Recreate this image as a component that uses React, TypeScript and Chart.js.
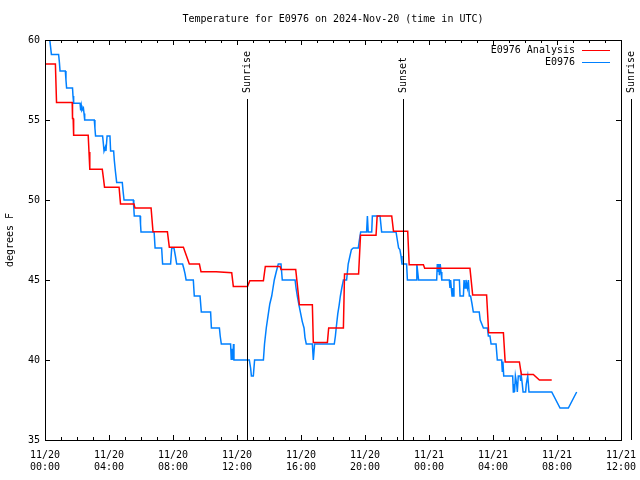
import React, { useEffect, useRef } from "react";
import { Chart, registerables } from "chart.js";

Chart.register(...registerables);

const TITLE = "Temperature for E0976 on 2024-Nov-20 (time in UTC)";
const Y_TITLE = "degrees F";
const FONT = '"DejaVu Sans Mono", monospace';

// hours since 2024-11-20 00:00 UTC
const X_TICK_HOURS = [0, 4, 8, 12, 16, 20, 24, 28, 32, 36];
const X_TICK_LABELS = [
  ["11/20", "00:00"], ["11/20", "04:00"], ["11/20", "08:00"], ["11/20", "12:00"],
  ["11/20", "16:00"], ["11/20", "20:00"], ["11/21", "00:00"], ["11/21", "04:00"],
  ["11/21", "08:00"], ["11/21", "12:00"],
];
const Y_MIN = 35;
const Y_MAX = 60;
const Y_STEP = 5;

const SUN_LABELS = ["Sunrise", "Sunset", "Sunrise"];
const SUN_HOURS = [12.62, 22.37, 36.62];

const SERIES_LABELS = ["E0976 Analysis", "E0976"];
const SERIES_COLORS = ["#ff0000", "#0080ff"];

// E0976 Analysis
const anaHours = [
  0, 0.65, 0.72, 1.7, 1.72, 1.76, 1.79, 2.7, 2.75, 2.8, 3.58, 3.66, 3.72, 4.63, 4.72, 5.56, 5.62,
  6.63, 6.75, 7.65, 7.77, 8.65, 9.02, 9.65, 9.75, 10.7, 11.67, 11.77, 12.66, 12.8, 13.65, 13.77,
  14.69, 14.75, 15.67, 15.76, 15.9, 16.71, 16.77, 17.65, 17.73, 18.65, 18.72, 19.6, 19.72, 20.69,
  20.76, 21.67, 21.78, 22.67, 22.76, 23.65, 23.73, 26.56, 26.73, 27.6, 27.73, 28.65, 28.76, 29.65,
  29.77, 30.52, 30.9, 31.67,
];
const anaTemps = [
  58.5, 58.5, 56.1, 56.1, 55.1, 55.1, 54.05, 54.05, 53.0, 51.92, 51.92, 51.3, 50.8, 50.8, 49.75,
  49.75, 49.5, 49.5, 48.02, 48.02, 47.05, 47.05, 46.0, 46.0, 45.52, 45.52, 45.45, 44.6, 44.6,
  44.95, 44.95, 45.85, 45.85, 45.65, 45.65, 44.8, 43.45, 43.45, 41.1, 41.1, 42.0, 42.0, 45.37,
  45.37, 47.8, 47.8, 49.0, 49.0, 48.05, 48.05, 45.95, 45.95, 45.73, 45.73, 44.06, 44.06, 41.7,
  41.7, 39.88, 39.88, 39.1, 39.1, 38.75, 38.75,
];

// E0976 observations
const obsHours = [
  0.3, 0.4, 0.85, 0.9, 0.94, 1.27, 1.31, 1.35, 1.72, 1.75, 1.79, 2.19, 2.23, 2.27, 2.31, 2.4, 2.44,
  2.48, 3.08, 3.12, 3.16, 3.6, 3.64, 3.69, 3.77, 3.81, 3.88, 4.06, 4.1, 4.29, 4.33, 4.4, 4.48,
  4.83, 4.88, 4.94, 5.52, 5.55, 5.58, 5.94, 5.97, 6.0, 6.82, 6.88, 7.29, 7.35, 7.85, 7.92, 8.06,
  8.15, 8.23, 8.6, 8.68, 8.75, 8.82, 9.27, 9.33, 9.69, 9.77, 10.35, 10.4, 10.9, 10.95, 11.02,
  11.6, 11.64, 11.7, 11.74, 11.78, 11.81, 12.77, 12.85, 12.9, 13.02, 13.1, 13.65, 13.72, 13.83,
  13.96, 14.05, 14.17, 14.25, 14.33, 14.45, 14.58, 14.75, 14.83, 15.63, 15.69, 15.77, 15.88,
  15.98, 16.08, 16.19, 16.25, 16.33, 16.71, 16.77, 16.85, 18.08, 18.15, 18.2, 18.3, 18.38, 18.46,
  18.55, 18.65, 18.85, 18.95, 19.06, 19.15, 19.27, 19.58, 19.65, 19.73, 20.1, 20.15, 20.2, 20.42,
  20.46, 20.94, 21.04, 21.94, 22.02, 22.1, 22.18, 22.25, 22.31, 22.6, 22.65, 23.19, 23.24, 23.35,
  24.48, 24.52, 24.56, 24.6, 24.65, 24.7, 24.75, 24.8, 25.27, 25.31, 25.35, 25.44, 25.48, 25.52,
  25.56, 25.9, 25.94, 26.15, 26.19, 26.25, 26.31, 26.4, 26.46, 26.52, 26.6, 26.69, 26.77, 27.14,
  27.2, 27.4, 27.65, 27.71, 27.81, 27.88, 28.19, 28.27, 28.54, 28.58, 28.62, 28.67, 29.23, 29.27,
  29.31, 29.35, 29.4, 29.48, 29.52, 29.58, 29.69, 29.73, 29.77, 29.83, 29.88, 30.04, 30.08,
  30.17, 30.25, 31.67, 32.19, 32.71, 33.23,
];
const obsTemps = [
  60.0, 59.1, 59.1, 58.6, 58.06, 58.06, 57.5, 57.0, 57.0, 56.5, 56.05, 56.05, 55.6, 55.9, 55.6,
  55.75, 55.4, 55.0, 55.0, 54.5, 54.0, 54.0, 53.6, 53.06, 53.3, 53.06, 54.0, 54.0, 53.06, 53.06,
  52.5, 51.8, 51.1, 51.1, 50.55, 50.0, 50.0, 49.5, 49.0, 49.0, 48.5, 48.0, 48.0, 47.0, 47.0,
  46.0, 46.0, 47.0, 47.0, 46.5, 46.0, 46.0, 45.7, 45.4, 45.0, 45.0, 44.0, 44.0, 43.0, 43.0, 42.0,
  42.0, 41.5, 41.0, 41.0, 40.0, 40.7, 40.0, 41.0, 40.0, 40.0, 39.5, 39.0, 39.0, 40.0, 40.0, 41.0,
  42.0, 42.9, 43.5, 44.0, 44.5, 45.0, 45.5, 46.0, 46.0, 45.0, 45.0, 44.5, 44.0, 43.4, 42.9, 42.4,
  42.0, 41.4, 41.0, 41.0, 40.0, 41.0, 41.0, 41.5, 42.0, 42.9, 43.4, 44.0, 44.5, 45.0, 45.0, 46.0,
  46.5, 46.9, 47.0, 47.0, 47.5, 48.0, 48.0, 49.0, 48.0, 48.0, 49.0, 49.0, 48.0, 48.0, 47.5, 47.0,
  46.9, 46.5, 46.0, 46.0, 45.0, 45.0, 46.0, 45.0, 45.0, 46.0, 45.5, 46.0, 45.3, 46.0, 45.5, 45.0,
  45.0, 44.5, 45.0, 44.0, 44.5, 44.0, 45.0, 45.0, 44.0, 44.0, 45.0, 44.5, 45.0, 44.5, 45.0, 44.0,
  44.0, 43.5, 43.0, 43.0, 42.5, 42.0, 42.0, 41.5, 41.5, 41.0, 41.0, 40.0, 40.0, 39.3, 39.9, 39.0,
  39.0, 38.0, 38.5, 38.0, 39.0, 38.5, 38.0, 39.0, 39.0, 38.7, 39.0, 38.5, 38.0, 38.0, 38.5, 39.0,
  38.0, 38.0, 37.0, 37.0, 38.0,
];

const toPoints = (hs: number[], ts: number[]) => hs.map((h, i) => ({ x: h, y: ts[i] }));

const overlayPlugin = {
  id: "overlay",
  afterDraw(chart: any) {
    const { ctx, chartArea: a, scales } = chart;
    const xs = scales.x;
    const ys = scales.y;
    ctx.save();
    ctx.strokeStyle = "#000";
    ctx.fillStyle = "#000";
    ctx.lineWidth = 1;
    // frame
    ctx.strokeRect(a.left + 0.5, a.top + 0.5, a.right - a.left, a.bottom - a.top);
    // x ticks (inward, top and bottom)
    ctx.beginPath();
    for (let h = 0; h <= 36; h++) {
      const x = Math.round(xs.getPixelForValue(h)) + 0.5;
      const len = h % 4 === 0 ? 5 : 3;
      ctx.moveTo(x, a.bottom);
      ctx.lineTo(x, a.bottom - len);
      ctx.moveTo(x, a.top);
      ctx.lineTo(x, a.top + len);
    }
    // y ticks
    for (let v = Y_MIN; v <= Y_MAX; v += Y_STEP) {
      const y = Math.round(ys.getPixelForValue(v)) + 0.5;
      ctx.moveTo(a.left, y);
      ctx.lineTo(a.left + 5, y);
      ctx.moveTo(a.right, y);
      ctx.lineTo(a.right - 5, y);
    }
    ctx.stroke();

    ctx.font = "10px " + FONT;
    // sun lines
    SUN_HOURS.forEach((h, i) => {
      const x = Math.round(xs.getPixelForValue(h)) + 0.5;
      ctx.beginPath();
      ctx.moveTo(x, 99);
      ctx.lineTo(x, a.bottom);
      ctx.stroke();
      ctx.save();
      ctx.translate(x, 93);
      ctx.rotate(-Math.PI / 2);
      ctx.textAlign = "left";
      ctx.textBaseline = "middle";
      ctx.fillText(SUN_LABELS[i], 0, 0);
      ctx.restore();
    });

    // title
    ctx.textAlign = "center";
    ctx.textBaseline = "middle";
    ctx.fillText(TITLE, (a.left + a.right) / 2, 19);

    // y title
    ctx.save();
    ctx.translate(10, (a.top + a.bottom) / 2);
    ctx.rotate(-Math.PI / 2);
    ctx.fillText(Y_TITLE, 0, 0);
    ctx.restore();

    // legend
    SERIES_LABELS.forEach((lab, i) => {
      const y = 50 + i * 12;
      ctx.textAlign = "right";
      ctx.fillStyle = "#000";
      ctx.fillText(lab, 575, y);
      ctx.strokeStyle = SERIES_COLORS[i];
      ctx.beginPath();
      ctx.moveTo(582, y + 0.5);
      ctx.lineTo(610, y + 0.5);
      ctx.stroke();
    });
    ctx.restore();
  },
};

export default function App() {
  const ref = useRef<HTMLCanvasElement | null>(null);
  useEffect(() => {
    document.body.style.margin = "0";
    const canvas = ref.current;
    if (!canvas) return;
    const chart = new Chart(canvas, {
      type: "line",
      data: {
        datasets: [
          {
            label: SERIES_LABELS[0],
            data: toPoints(anaHours, anaTemps),
            borderColor: SERIES_COLORS[0],
            borderWidth: 1.5,
            pointRadius: 0,
            tension: 0,
            fill: false,
          },
          {
            label: SERIES_LABELS[1],
            data: toPoints(obsHours, obsTemps),
            borderColor: SERIES_COLORS[1],
            borderWidth: 1.5,
            pointRadius: 0,
            tension: 0,
            fill: false,
          },
        ],
      },
      options: {
        responsive: false,
        animation: false,
        devicePixelRatio: 1,
        layout: { padding: { top: 40, right: 19, left: 0, bottom: 0 } },
        plugins: {
          legend: { display: false },
          title: { display: false },
          tooltip: { enabled: false },
        },
        events: [],
        scales: {
          x: {
            type: "linear",
            min: 0,
            max: 36,
            afterBuildTicks: (scale: any) => {
              scale.ticks = X_TICK_HOURS.map((v) => ({ value: v }));
            },
            afterFit: (scale: any) => {
              scale.height = 40;
              scale.paddingLeft = 0;
              scale.paddingRight = 0;
            },
            ticks: {
              autoSkip: false,
              maxRotation: 0,
              minRotation: 0,
              padding: 9,
              color: "#000",
              font: { family: FONT, size: 10 },
              callback: (value: any) => X_TICK_LABELS[X_TICK_HOURS.indexOf(Number(value))] ?? "",
            },
            grid: { display: false, drawTicks: false, tickLength: 0 },
            border: { display: false },
          },
          y: {
            type: "linear",
            min: Y_MIN,
            max: Y_MAX,
            afterFit: (scale: any) => {
              scale.width = 45;
              scale.paddingTop = 0;
              scale.paddingBottom = 0;
            },
            ticks: {
              stepSize: Y_STEP,
              padding: 5,
              color: "#000",
              font: { family: FONT, size: 10 },
            },
            grid: { display: false, drawTicks: false, tickLength: 0 },
            border: { display: false },
          },
        },
      },
      plugins: [overlayPlugin],
    });
    return () => chart.destroy();
  }, []);
  return (
    <canvas
      ref={ref}
      width={640}
      height={480}
      style={{ position: "absolute", left: 0, top: 0, width: 640, height: 480 }}
    />
  );
}
